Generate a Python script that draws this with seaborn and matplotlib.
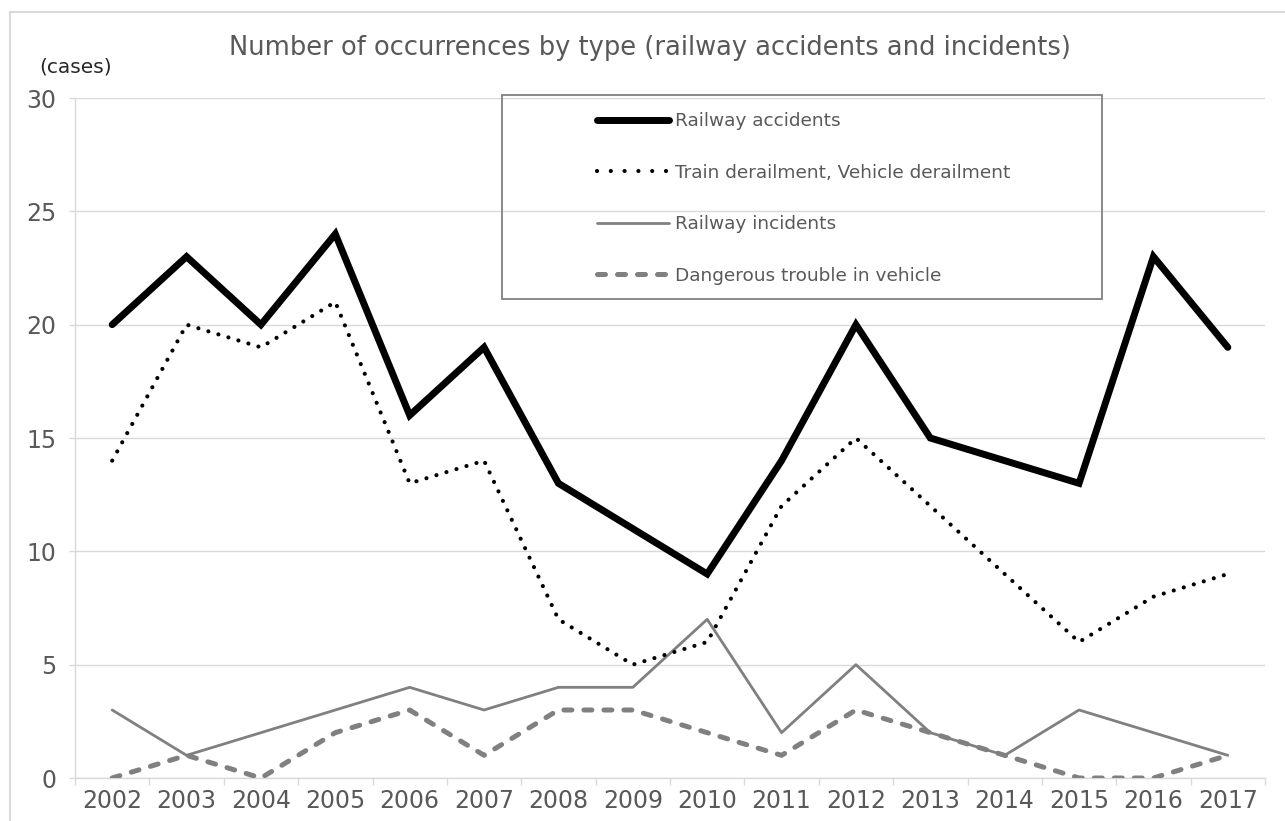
import numpy as np
import pandas as pd
import matplotlib

matplotlib.use('Agg')

import matplotlib.pyplot as plt
import seaborn as sns
from matplotlib.patches import Rectangle
from matplotlib.lines import Line2D

sns.set_style("white")
plt.rcParams['font.family'] = ['DejaVu Sans']

years = ["2002", "2003", "2004", "2005", "2006", "2007", "2008", "2009",
         "2010", "2011", "2012", "2013", "2014", "2015", "2016", "2017"]
railway_accidents = [20, 23, 20, 24, 16, 19, 13, 11, 9, 14, 20, 15, 14, 13, 23, 19]
derailments = [14, 20, 19, 21, 13, 14, 7, 5, 6, 12, 15, 12, 9, 6, 8, 9]
railway_incidents = [3, 1, 2, 3, 4, 3, 4, 4, 7, 2, 5, 2, 1, 3, 2, 1]
dangerous_trouble = [0, 1, 0, 2, 3, 1, 3, 3, 2, 1, 3, 2, 1, 0, 0, 1]

labels = ["Railway accidents", "Train derailment, Vehicle derailment",
          "Railway incidents", "Dangerous trouble in vehicle"]

TXT = "#595959"
GRID = "#d9d9d9"
W, H = 1285, 821

df = pd.DataFrame({"x": np.arange(len(years)),
                   "acc": railway_accidents, "der": derailments,
                   "inc": railway_incidents, "dan": dangerous_trouble})

fig = plt.figure(figsize=(W / 100, H / 100), dpi=100)
ax = fig.add_axes([75 / W, 1 - 778 / H, (1265 - 75) / W, (778 - 98) / H])

dotted = (0, (0.01, 2.5))
dashed = (0, (1.6, 2.4))

# series
sns.lineplot(data=df, x="x", y="acc", ax=ax, color="black", linewidth=5,
             solid_capstyle="round", solid_joinstyle="miter", zorder=5)
sns.lineplot(data=df, x="x", y="der", ax=ax, color="black", linewidth=3,
             linestyle=dotted, dash_capstyle="round", zorder=4)
sns.lineplot(data=df, x="x", y="inc", ax=ax, color="#808080", linewidth=2,
             zorder=3)
sns.lineplot(data=df, x="x", y="dan", ax=ax, color="#808080", linewidth=3.6,
             linestyle=dashed, dash_capstyle="round", zorder=3)

# axes styling
ax.set_xlim(-0.5, len(years) - 0.5)
ax.set_ylim(0, 30)
ax.set_yticks(range(0, 31, 5))
ax.set_xticks(range(len(years)))
ax.set_xticklabels(years)
ax.set_xticks(np.arange(-0.5, len(years)), minor=True)
ax.set_xlabel("")
ax.set_ylabel("")
ax.grid(axis="y", color=GRID, linewidth=1.0)
ax.grid(axis="x", visible=False)
for s in ["top", "right"]:
    ax.spines[s].set_visible(False)
for s in ["left", "bottom"]:
    ax.spines[s].set_color(GRID)
    ax.spines[s].set_linewidth(1.0)
ax.tick_params(axis="y", left=True, length=4.3, width=1.0, color=GRID,
               pad=9, labelsize=17, labelcolor=TXT)
ax.tick_params(axis="x", which="major", bottom=False, length=0, pad=8,
               labelsize=17, labelcolor=TXT)
ax.tick_params(axis="x", which="minor", bottom=True, length=5, width=1.0,
               color=GRID)

# title and unit label
fig.text(650 / W, 1 - 48 / H,
         "Number of occurrences by type (railway accidents and incidents)",
         ha="center", va="center", fontsize=18.5, color=TXT)
fig.text(76 / W, 1 - 67 / H, "(cases)", ha="center", va="center",
         fontsize=14.5, color="#262626")

# legend box (no fill, gridlines show through)
fig.patches.append(Rectangle((502 / W, 1 - 299 / H), 600 / W, 204 / H,
                             transform=fig.transFigure, facecolor="none",
                             edgecolor="#808080", linewidth=1.3, zorder=6))
handles = [
    Line2D([], [], color="black", linewidth=5, solid_capstyle="round"),
    Line2D([], [], color="black", linewidth=3, linestyle=(0, (0.01, 3.3)),
           dash_capstyle="round"),
    Line2D([], [], color="#808080", linewidth=2),
    Line2D([], [], color="#808080", linewidth=3.6, linestyle=dashed,
           dash_capstyle="round"),
]
leg = fig.legend(handles, labels, loc="upper left",
                 bbox_to_anchor=(597 / W, 1 - 112 / H),
                 frameon=False, fontsize=13.3, handlelength=3.9,
                 handletextpad=0.3, labelspacing=1.82, borderpad=0,
                 borderaxespad=0, labelcolor=TXT)
leg.set_zorder(7)

# outer chart border
fig.patches.append(Rectangle((10 / W, -0.05), 1.1, 1 - 12 / H + 0.05,
                             transform=fig.transFigure, facecolor="none",
                             edgecolor=GRID, linewidth=1.5, zorder=0))

fig.savefig("out.png", dpi=100)
